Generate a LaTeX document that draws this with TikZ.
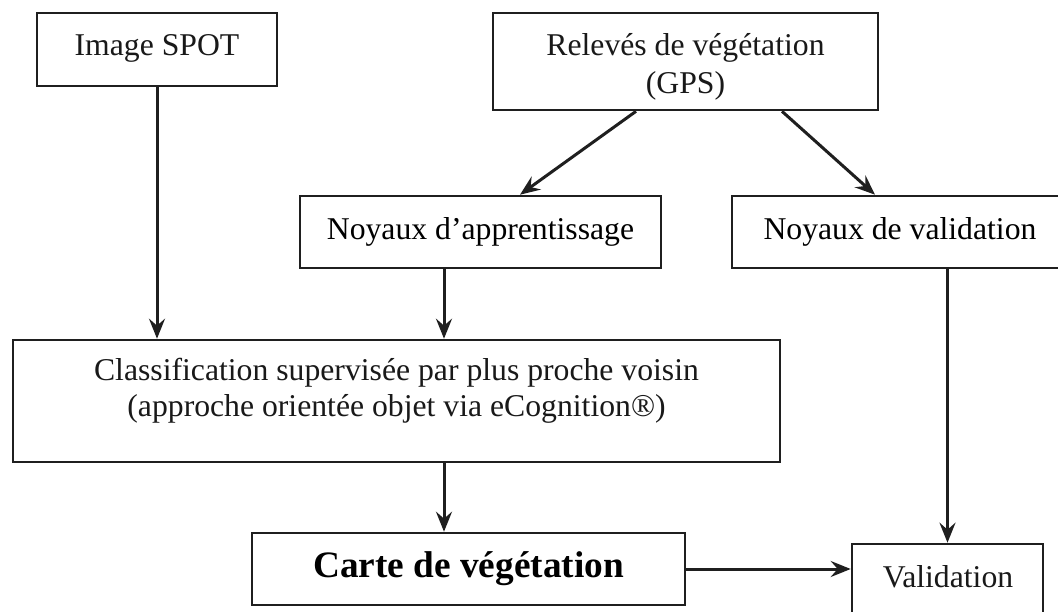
\documentclass[tikz,border=0pt]{standalone}
\usepackage{fontspec}
\setmainfont{Liberation Serif}
\usetikzlibrary{arrows.meta,calc}
\begin{document}
\begin{tikzpicture}[x=1pt,y=-1pt,
  box/.style={draw=black!88,line width=2.6pt,rectangle,inner sep=0pt,align=center,
    font=\fontsize{31.7}{36}\selectfont},
  lbl/.style={inner sep=0pt,align=center,font=\fontsize{31.7}{35}\selectfont,text=black!90},
  arr/.style={draw=black!88,line width=3pt,-{Stealth[length=20pt,width=16pt,inset=7pt]}}]
\clip (0,0) rectangle (1058,612);
\fill[white] (0,0) rectangle (1058,612);
\node[box,minimum width=240pt,minimum height=73pt] (spot) at (157,49.5) {};
\node[lbl,anchor=base] (spottxt) at (157,56) {Image SPOT};
\node[box,minimum width=385pt,minimum height=97pt] (rel) at (685.5,61.5) {};
\node[lbl,anchor=base] (reltxt) at (685.5,56) {Relevés de végétation};
\node[lbl,anchor=base] (reltxt2) at (685.5,94) {(GPS)};
\node[box,minimum width=361pt,minimum height=72pt] (app) at (480.5,232) {Noyaux d’apprentissage};
\node[box,minimum width=336pt,minimum height=72pt] (nval) at (900,232) {Noyaux de validation};
\node[box,minimum width=767pt,minimum height=122pt] (class) at (396.5,401) {};
\node[lbl,anchor=base] (classtxt) at (396.5,381) {Classification supervisée par plus proche voisin};
\node[lbl,anchor=base] (classtxt2) at (396.5,416) {(approche orientée objet via eCognition®)};
\node[box,minimum width=433pt,minimum height=72pt,font=\fontsize{37.3}{40}\selectfont\bfseries] (carte) at (468.5,569) {Carte de végétation};
\node[box,minimum width=191pt,minimum height=96pt] (val) at (947.5,592) {};
\node[lbl,anchor=base] (valtxt) at (948,587) {Validation};
\coordinate (xs) at (157,0);
\coordinate (xa) at (444,0);
\draw[arr] (spot.south) -- (class.north -| xs);
\draw[arr] ($(rel.south)+(-49.5,0)$) -- ($(app.north)+(39.5,0)$);
\draw[arr] ($(rel.south)+(96.5,0)$) -- ($(nval.north)+(-25,0)$);
\draw[arr] (app.south -| xa) -- (class.north -| xa);
\draw[arr] (class.south -| xa) -- (carte.north -| xa);
\draw[arr] (nval.south -| val.north) -- (val.north);
\draw[arr] (carte.east) -- (carte.east -| val.west);
\end{tikzpicture}
\end{document}
